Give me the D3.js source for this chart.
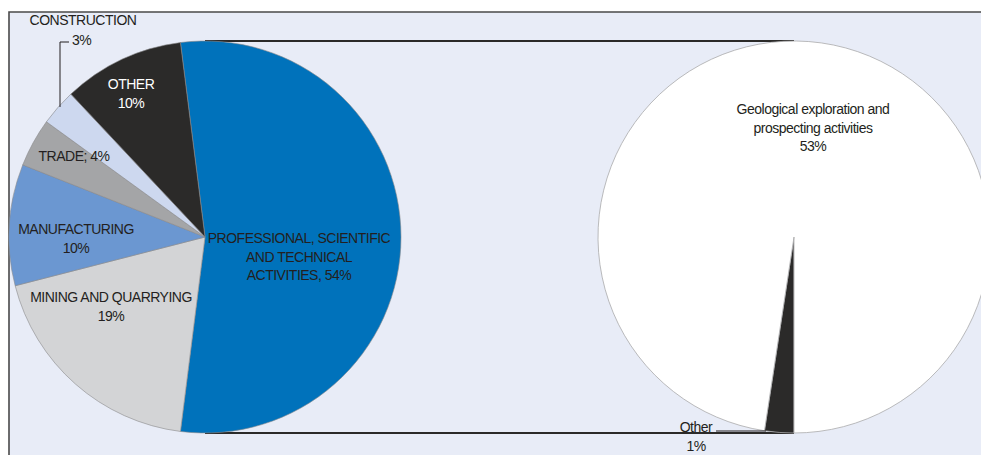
<!DOCTYPE html>
<html><head><meta charset="utf-8">
<script src="https://cdn.jsdelivr.net/npm/d3@7"></script>
<style>
html,body{margin:0;padding:0;background:#fff;}
svg{display:block;}
text{font-family:"Liberation Sans",Arial,Helvetica,sans-serif;font-size:14px;fill:#231f20;letter-spacing:-0.5px;}
</style></head>
<body>
<script>
// Left pie: sectors (%)
const sectors = ["PROFESSIONAL, SCIENTIFIC AND TECHNICAL ACTIVITIES", "MINING AND QUARRYING", "MANUFACTURING", "TRADE", "CONSTRUCTION", "OTHER"];
const sectorValues = [54, 19, 10, 4, 3, 10];
const sectorColors = ["#0072bb", "#d3d4d6", "#6b97d1", "#a4a5a7", "#cdd8ef", "#2b2a29"];
// Right pie: breakdown of professional activities (%)
const subCategories = ["Geological exploration and prospecting activities", "Other"];
const subValues = [52.7, 1.3];
const subLabels = ["53%", "1%"];
const subColors = ["#ffffff", "#2b2a29"];

const W = 981, H = 455;
const svg = d3.select("body").append("svg").attr("width", W).attr("height", H);

// frame
svg.append("rect").attr("x", 9).attr("y", 12).attr("width", W - 9).attr("height", H - 12).attr("fill", "#e8ecf7");
svg.append("path").attr("d", `M9,${H}V12H${W}`).attr("fill", "none").attr("stroke", "#4a4a4a").attr("stroke-width", 1.6);

const R = 196;
const cL = [205, 237], cR = [794, 237];

// connector lines
const conn = svg.append("g").attr("stroke", "#2b2a29").attr("stroke-width", 2.2);
conn.append("line").attr("x1", cL[0]).attr("x2", cR[0]).attr("y1", cL[1] - R).attr("y2", cR[1] - R);
conn.append("line").attr("x1", cL[0]).attr("x2", cR[0]).attr("y1", cL[1] + R).attr("y2", cR[1] + R);

const arc = d3.arc().innerRadius(0).outerRadius(R);

// left pie
const s0 = -0.02 * 2 * Math.PI;
const pieL = d3.pie().sort(null).value(d => d).startAngle(s0).endAngle(s0 + 2 * Math.PI)(sectorValues);
const gL = svg.append("g").attr("transform", `translate(${cL})`);
gL.selectAll("path").data(pieL).join("path")
  .attr("d", arc).attr("fill", (d, i) => sectorColors[i])
  .attr("stroke", "#8a8a8c").attr("stroke-width", 0.6);

// right pie
const pieR = d3.pie().sort(null).value(d => d).startAngle(Math.PI).endAngle(3 * Math.PI)([subValues[1], subValues[0]]);
const gR = svg.append("g").attr("transform", `translate(${cR})`);
gR.selectAll("path").data(pieR).join("path")
  .attr("d", arc).attr("fill", (d, i) => i === 0 ? subColors[1] : subColors[0])
  .attr("stroke", "#a9a9ab").attr("stroke-width", 0.8);

// labels
function label(x, y, lines, color) {
  const t = svg.append("text").attr("text-anchor", "middle").attr("x", x).attr("y", y);
  if (color) t.style("fill", color);
  lines.forEach((l, i) => t.append("tspan").attr("x", x).attr("dy", i ? 18.5 : 0).text(l));
  return t;
}
label(299, 243, ["PROFESSIONAL, SCIENTIFIC", "AND TECHNICAL", "ACTIVITIES, " + sectorValues[0] + "%"]);
label(111, 302, [sectors[1], sectorValues[1] + "%"]);
label(76, 234, [sectors[2], sectorValues[2] + "%"]);
label(74, 161, [sectors[3] + "; " + sectorValues[3] + "%"]);
label(83, 25, [sectors[4]]);
svg.append("text").attr("x", 72).attr("y", 45).text(sectorValues[4] + "%");
label(131, 89, [sectors[5], sectorValues[5] + "%"], "#ffffff");

// construction leader
svg.append("path").attr("d", "M69,42H60V107").attr("fill", "none").attr("stroke", "#231f20").attr("stroke-width", 1);

label(813, 114, ["Geological exploration and", "prospecting activities", subLabels[0]]);
label(696, 432, [subCategories[1], subLabels[1]]);
svg.append("line").attr("x1", 716).attr("x2", 766).attr("y1", 431).attr("y2", 431).attr("stroke", "#231f20").attr("stroke-width", 1);
</script>
</body></html>
